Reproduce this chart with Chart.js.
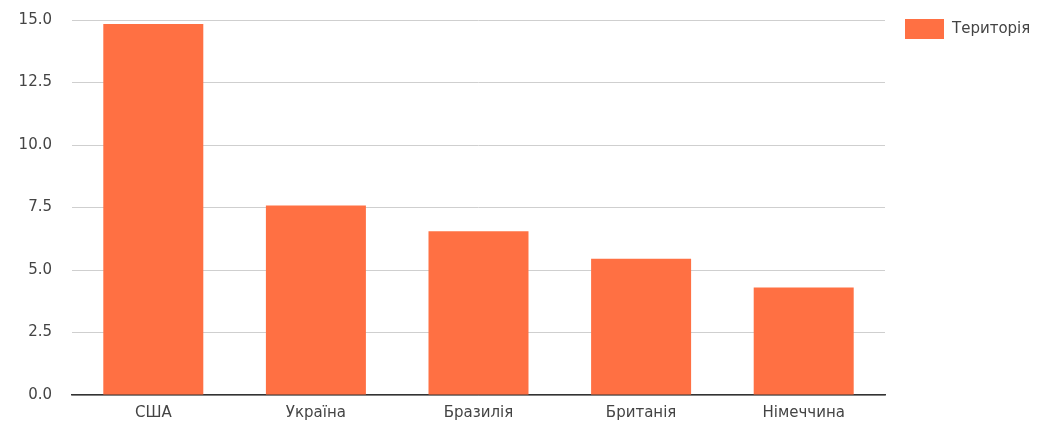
<!DOCTYPE html>
<html>
<head>
<meta charset="utf-8">
<script src="https://cdn.jsdelivr.net/npm/chart.js@4"></script>
<style>
    html, body { margin: 0; padding: 0; background: #fff; }
    #wrap { width: 1056px; height: 431px; }
</style>
</head>
<body>
<div id="wrap"><canvas id="territoryChart"></canvas></div>
<script>
const countries = ['США', 'Україна', 'Бразилія', 'Британія', 'Німеччина'];
const territory = [14.84, 7.58, 6.55, 5.45, 4.3];
const seriesName = 'Територія';
const yTicks = [0, 2.5, 5, 7.5, 10, 12.5, 15];

const barColor = '#ff7043';
const textColor = '#444';
const fontFamily = '"DejaVu Sans", sans-serif';

// legend drawn by hand so it sits at the top right like the original
const sideLegend = {
    id: 'sideLegend',
    afterDraw(chart) {
        const ctx = chart.ctx;
        const ds = chart.data.datasets[0];
        ctx.save();
        ctx.fillStyle = ds.backgroundColor;
        ctx.fillRect(905, 19, 39, 20);
        ctx.fillStyle = textColor;
        ctx.font = '15px ' + fontFamily;
        ctx.textBaseline = 'middle';
        ctx.fillText(ds.label, 952, 29);
        ctx.restore();
    },
};

new Chart(document.getElementById('territoryChart'), {
    type: 'bar',
    data: {
        labels: countries,
        datasets: [{
            label: seriesName,
            data: territory,
            backgroundColor: barColor,
            categoryPercentage: 1,
            barPercentage: 0.615,
        }],
    },
    options: {
        responsive: true,
        maintainAspectRatio: false,
        animation: false,
        layout: {
            padding: { top: 20, right: 171, bottom: 0, left: 0 },
        },
        plugins: {
            legend: { display: false },
            tooltip: { enabled: false },
        },
        scales: {
            x: {
                grid: { display: false, drawTicks: false },
                border: { color: '#333', width: 1.5 },
                ticks: {
                    color: textColor,
                    padding: 9,
                    font: { family: fontFamily, size: 15 },
                },
                afterFit(scale) { scale.height = 36; },
            },
            y: {
                min: 0,
                max: 15,
                afterBuildTicks(scale) {
                    scale.ticks = yTicks.map(v => ({ value: v }));
                },
                grid: { color: '#cfcfcf', drawTicks: false },
                border: { display: false },
                ticks: {
                    color: textColor,
                    padding: 20,
                    font: { family: fontFamily, size: 15 },
                    callback: v => v.toFixed(1),
                },
                afterFit(scale) {
                    scale.width = 72;
                    scale.paddingTop = 0;
                    scale.paddingBottom = 0;
                },
            },
        },
    },
    plugins: [sideLegend],
});
</script>
</body>
</html>
